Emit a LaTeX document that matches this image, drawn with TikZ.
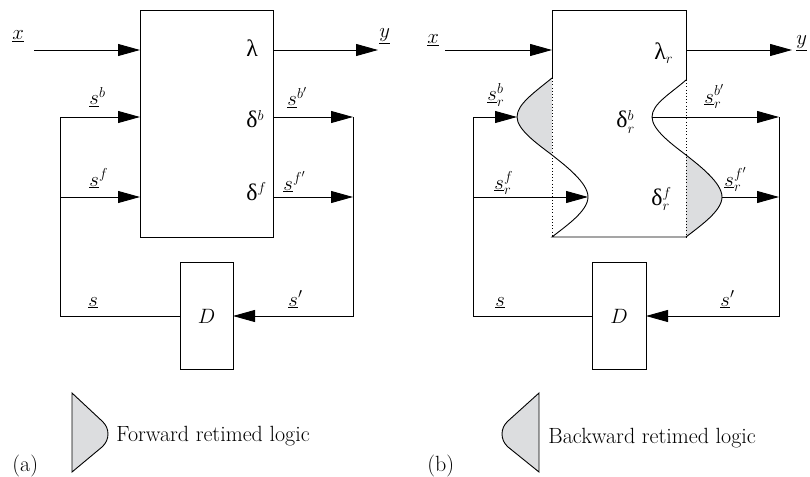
\documentclass[tikz,border=0pt]{standalone}
\usepackage{fontspec}
\newfontfamily\grk[Scale=1.08]{Liberation Serif}
\usetikzlibrary{arrows.meta}
\definecolor{retime}{RGB}{220,221,223}
\begin{document}
\begin{tikzpicture}[x=1pt,y=-1pt,line width=0.9pt,
  arr/.style={-{Triangle[length=22pt,width=12pt]}},
  lab/.style={inner sep=0pt,anchor=base west,font=\fontsize{22}{26}\selectfont},
  blk/.style={draw,inner sep=0pt,outer sep=0pt,font=\fontsize{22}{26}\selectfont},
  dots/.style={line width=1pt,dash pattern=on 1pt off 2.2pt}]
\useasboundingbox (0,0) rectangle (810,476);

% ---------------- (a)
\node[blk,minimum width=133pt,minimum height=227pt,anchor=north west] (A) at (140,10) {};
\node[blk,minimum width=53pt,minimum height=107pt] (AD) at (206.5,316) {$D$};
\coordinate (ax) at (34,50);
\coordinate (ay) at (378,50);
\coordinate (al1) at (60,117);
\coordinate (al2) at (60,197);
\coordinate (al3) at (60,316);
\coordinate (ar1) at (353,117);
\coordinate (ar2) at (353,197);
\coordinate (ar3) at (353,316);

\draw[arr] (ax) -- (ax -| A.west);
\draw[arr] (ay -| A.east) -- (ay);
\draw[arr] (AD.west |- al3) -- (al3) -- (al1) -- (al1 -| A.west);
\draw[arr] (al2) -- (al2 -| A.west);
\draw[arr] (al1 -| A.east) -- (ar1);
\draw[arr] (al2 -| A.east) -- (ar2);
\draw[arr] (ar1) -- (ar3) -- (ar3 -| AD.east);

\node[lab] (lxa) at (12,40) {$\underline{x}$};
\node[lab] (lya) at (379,38) {$\underline{y}$};
\node[lab] (lama) at (246,57) {\grk λ};
\node[lab] (dba) at (246,128) {{\grk δ}$^{b}$};
\node[lab] (dfa) at (246,200) {{\grk δ}$^{f}$};
\node[lab] (sba) at (89,105) {$\underline{s}^{b}$};
\node[lab] (sfa) at (89,186) {$\underline{s}^{f}$};
\node[lab] (sbpa) at (287,106) {$\underline{s}^{b'}$};
\node[lab] (sfpa) at (283,190) {$\underline{s}^{f'}$};
\node[lab] (ssa) at (88,306) {$\underline{s}$};
\node[lab] (sspa) at (288,306) {$\underline{s}'$};

\draw[fill=retime] (72,393) -- (102,421) .. controls (110,428) and (110,440) .. (102,447) -- (72,472) -- cycle;
\node[lab] (fwd) at (116,441) {Forward retimed logic};
\node[lab] (la) at (12,471) {(a)};

% ---------------- (b)
\node[minimum width=134pt,minimum height=227pt,inner sep=0pt,outer sep=0pt,anchor=north west] (B) at (552,10) {};
\node[blk,minimum width=54pt,minimum height=107pt] (BD) at (619,316) {$D$};
\coordinate (bl0) at (552,78);
\coordinate (bl1) at (517,117);
\coordinate (bl2) at (552,155);
\coordinate (bl3) at (588,197);
\coordinate (br0) at (686,80);
\coordinate (br1) at (652,117);
\coordinate (br2) at (686,155);
\coordinate (br3) at (722,197);

\fill[retime] (bl0) .. controls (535,92) and (517,104) .. (bl1) .. controls (517,130) and (539,145) .. (bl2) -- cycle;
\fill[retime] (br2) .. controls (700,166) and (722,183) .. (br3) .. controls (722,211) and (700,226) .. (B.south east) -- cycle;

\draw (bl0) -- (B.north west) -- (B.north east) -- (br0);
\draw (bl0) .. controls (535,92) and (517,104) .. (bl1) .. controls (517,130) and (539,145) .. (bl2)
  .. controls (566,166) and (588,183) .. (bl3) .. controls (588,211) and (566,226) .. (B.south west) -- (B.south east);
\draw (br0) .. controls (670,94) and (652,104) .. (br1) .. controls (652,130) and (673,145) .. (br2)
  .. controls (700,166) and (722,183) .. (br3) .. controls (722,211) and (700,226) .. (B.south east);
\draw[dots] (bl0) -- (B.south west);
\draw[dots] (br0) -- (B.south east);

\coordinate (bx) at (445,50);
\coordinate (by) at (792,50);
\coordinate (bL1) at (473,117);
\coordinate (bL2) at (473,197);
\coordinate (bL3) at (473,316);
\coordinate (bR1) at (779,117);
\coordinate (bR2) at (779,197);
\coordinate (bR3) at (779,316);

\draw[arr] (bx) -- (bx -| B.west);
\draw[arr] (by -| B.east) -- (by);
\draw[arr] (BD.west |- bL3) -- (bL3) -- (bL1) -- (bl1);
\draw[arr] (bL2) -- (bl3);
\draw[arr] (br1) -- (bR1);
\draw[arr] (br3) -- (bR2);
\draw[arr] (bR1) -- (bR3) -- (bR3 -| BD.east);

\node[lab] (lxb) at (427,44) {$\underline{x}$};
\node[lab] (lyb) at (796,45) {$\underline{y}$};
\node[lab] (lamb) at (654,60) {{\grk λ}$_{r}$};
\node[lab] (dbb) at (616,128) {{\grk δ}$^{b}_{r}$};
\node[lab] (dfb) at (651,205) {{\grk δ}$^{f}_{r}$};
\node[lab] (sbb) at (487,101) {$\underline{s}^{b}_{r}$};
\node[lab] (sfb) at (494,189) {$\underline{s}^{f}_{r}$};
\node[lab] (sbpb) at (704,103) {$\underline{s}^{b'}_{r}$};
\node[lab] (sfpb) at (724,186) {$\underline{s}^{f'}_{r}$};
\node[lab] (ssb) at (495,306) {$\underline{s}$};
\node[lab] (sspb) at (720,306) {$\underline{s}'$};

\draw[fill=retime] (539,393) -- (508,421) .. controls (500,428) and (500,440) .. (508,447) -- (539,472) -- cycle;
\node[lab] (bwd) at (548,443) {Backward retimed logic};
\node[lab] (lb) at (427,471) {(b)};
\end{tikzpicture}
\end{document}
